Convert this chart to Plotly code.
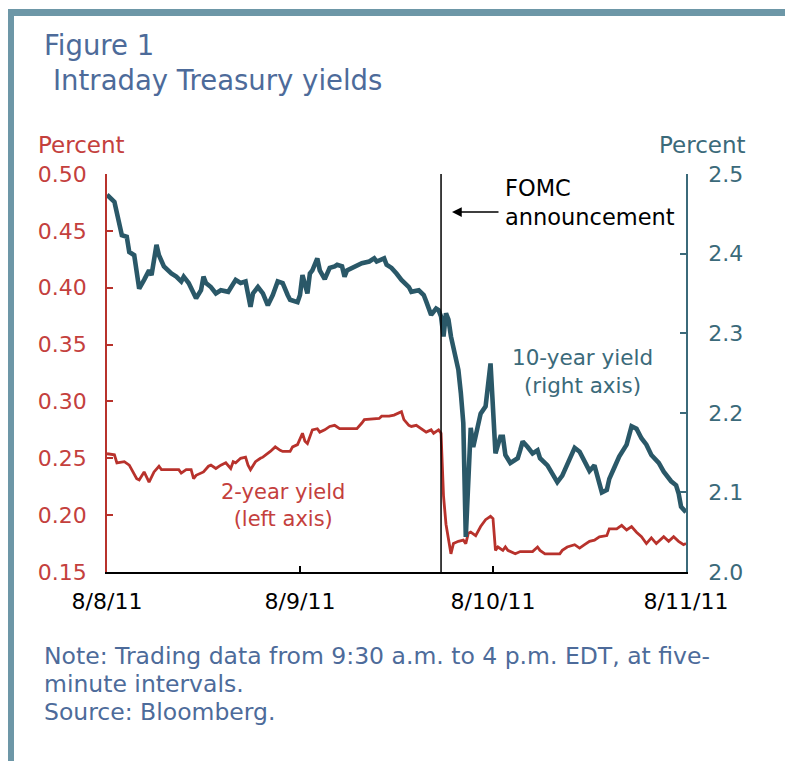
import plotly.graph_objects as go

# Session position in 5-minute bars (78 bars per trading day, 9:30-16:00 EDT)
day_labels = ["8/8/11", "8/9/11", "8/10/11", "8/11/11"]
day_bar_starts = [0, 78, 156, 234]
fomc_bar = 78 + 57  # 2:15 p.m. on 8/9/11

ten_x = [0, 3, 4, 5, 6, 8, 9, 11, 12, 13, 15, 17, 18, 20, 21, 23, 26, 28, 30, 31,
         33, 36, 38, 39, 40, 42, 44, 46, 49, 52, 54, 56, 58, 59, 61, 63, 65, 67, 69, 71,
         73, 74, 77, 78, 79, 81, 82, 83, 85, 86, 88, 90, 92, 93, 95, 96, 97, 100, 103, 106,
         108, 109, 112, 113, 115, 117, 119, 122, 123, 126, 128, 129, 131, 133, 134, 135, 136, 137, 138, 139,
         140, 142, 143, 144, 145, 146, 147, 148, 150, 151, 153, 154, 155, 157, 159, 160, 161, 163, 166, 167,
         168, 170, 172, 174, 175, 178, 180, 182, 184, 186, 189, 191, 193, 195, 197, 199, 200, 202, 203, 205,
         207, 210, 212, 214, 216, 218, 220, 223, 225, 228, 230, 231, 232, 234]
ten_y = [2.474, 2.465, 2.451, 2.434, 2.423, 2.421, 2.402, 2.398, 2.375, 2.356, 2.367, 2.379, 2.373, 2.411, 2.398, 2.384, 2.375, 2.371, 2.365, 2.371,
         2.363, 2.344, 2.354, 2.371, 2.363, 2.358, 2.350, 2.354, 2.352, 2.367, 2.363, 2.365, 2.333, 2.350, 2.358, 2.350, 2.335, 2.348, 2.365, 2.363,
         2.348, 2.342, 2.339, 2.348, 2.373, 2.350, 2.375, 2.379, 2.394, 2.379, 2.368, 2.382, 2.384, 2.386, 2.384, 2.371, 2.379, 2.384, 2.388, 2.390,
         2.394, 2.390, 2.394, 2.386, 2.382, 2.375, 2.367, 2.358, 2.352, 2.354, 2.348, 2.340, 2.323, 2.331, 2.329, 2.321, 2.296, 2.325, 2.317, 2.296,
         2.283, 2.254, 2.225, 2.187, 2.044, 2.116, 2.181, 2.157, 2.187, 2.199, 2.208, 2.241, 2.262, 2.149, 2.170, 2.170, 2.147, 2.137, 2.143, 2.153,
         2.164, 2.157, 2.149, 2.153, 2.143, 2.134, 2.122, 2.113, 2.121, 2.134, 2.156, 2.151, 2.138, 2.127, 2.134, 2.108, 2.100, 2.103, 2.117, 2.131,
         2.145, 2.160, 2.183, 2.180, 2.168, 2.160, 2.147, 2.137, 2.126, 2.114, 2.109, 2.099, 2.082, 2.075]

two_x = [0, 3, 4, 7, 9, 10, 12, 13, 15, 17, 19, 21, 22, 29, 30, 32, 34, 35, 36, 39,
         41, 42, 44, 46, 48, 50, 51, 52, 54, 56, 57, 58, 60, 62, 63, 66, 68, 70, 71, 74,
         75, 77, 79, 80, 81, 83, 85, 86, 88, 90, 92, 94, 101, 103, 104, 110, 111, 114, 116, 119,
         120, 122, 123, 125, 127, 129, 131, 132, 134, 135, 136, 137, 139, 140, 142, 144, 145, 146, 147, 149,
         151, 153, 155, 156, 157, 158, 160, 161, 162, 165, 167, 172, 174, 175, 177, 183, 184, 186, 189, 191,
         193, 195, 197, 199, 202, 203, 206, 208, 210, 212, 214, 216, 218, 220, 222, 225, 227, 229, 231, 233, 234]
two_y = [0.254, 0.253, 0.246, 0.247, 0.244, 0.240, 0.232, 0.231, 0.238, 0.229, 0.238, 0.243, 0.240, 0.240, 0.237, 0.240, 0.240, 0.232, 0.235, 0.238,
         0.243, 0.244, 0.241, 0.244, 0.246, 0.241, 0.247, 0.246, 0.250, 0.251, 0.244, 0.240, 0.247, 0.250, 0.251, 0.256, 0.260, 0.257, 0.256, 0.256,
         0.260, 0.262, 0.272, 0.265, 0.263, 0.275, 0.276, 0.273, 0.275, 0.278, 0.279, 0.276, 0.276, 0.281, 0.284, 0.285, 0.287, 0.287, 0.288, 0.291,
         0.284, 0.279, 0.278, 0.279, 0.276, 0.273, 0.275, 0.272, 0.275, 0.272, 0.217, 0.192, 0.166, 0.175, 0.177, 0.178, 0.175, 0.184, 0.185, 0.182,
         0.190, 0.196, 0.199, 0.197, 0.169, 0.172, 0.169, 0.172, 0.169, 0.166, 0.168, 0.168, 0.172, 0.169, 0.166, 0.166, 0.169, 0.172, 0.174, 0.171,
         0.174, 0.177, 0.178, 0.181, 0.182, 0.188, 0.188, 0.191, 0.187, 0.190, 0.185, 0.181, 0.175, 0.180, 0.175, 0.181, 0.177, 0.181, 0.177, 0.174, 0.175]

note_lines = ["Note: Trading data from 9:30 a.m. to 4 p.m. EDT, at five-",
              "minute intervals.",
              "Source: Bloomberg."]

RED = "#b8322c"
RED_TXT = "#c4403d"
TEAL = "#2a5868"
TEAL_TXT = "#3b6a7a"
BLUE_TXT = "#4d6b9a"
FRAME = "#6d97a7"
AXFONT = "DejaVu Sans"

fig = go.Figure()
fig.add_trace(go.Scatter(x=two_x, y=two_y, mode="lines", line=dict(color=RED, width=2.8),
                         yaxis="y", showlegend=False, hoverinfo="skip"))
fig.add_trace(go.Scatter(x=ten_x, y=ten_y, mode="lines", line=dict(color=TEAL, width=4.6),
                         yaxis="y2", showlegend=False, hoverinfo="skip"))

W, H = 785, 761
L, R, T, B = 107, 99, 174, 189
pw, ph = W - L - R, H - T - B


def px(x):
    return (x - L) / pw


def py(y):
    return (H - B - y) / ph


fig.update_layout(
    width=W, height=H,
    margin=dict(l=L, r=R, t=T, b=B, autoexpand=False),
    paper_bgcolor="white", plot_bgcolor="white",
    xaxis=dict(range=[0, 234], tickvals=day_bar_starts, ticktext=day_labels,
               showgrid=False, zeroline=False, showline=True, linecolor="#000000", linewidth=2,
               ticks="inside", ticklen=6, tickwidth=1.5, tickcolor="#000000",
               tickfont=dict(family=AXFONT, size=22, color="#000000"),
               ticklabelstandoff=9, automargin=False, fixedrange=True),
    yaxis=dict(range=[0.15, 0.50], tick0=0.15, dtick=0.05, tickformat=".2f",
               showgrid=False, zeroline=False, showline=True, linecolor=RED, linewidth=1.5,
               ticks="inside", ticklen=6, tickwidth=1.5, tickcolor=RED,
               tickfont=dict(family=AXFONT, size=22, color=RED_TXT),
               ticklabelstandoff=14, automargin=False, fixedrange=True),
    yaxis2=dict(range=[2.0, 2.5], tick0=2.0, dtick=0.1, tickformat=".1f",
                overlaying="y", side="right",
                showgrid=False, zeroline=False, showline=True, linecolor=TEAL_TXT, linewidth=1.5,
                ticks="inside", ticklen=6, tickwidth=1.5, tickcolor=TEAL_TXT,
                tickfont=dict(family=AXFONT, size=22, color=TEAL_TXT),
                ticklabelstandoff=16, automargin=False, fixedrange=True),
    shapes=[
        dict(type="rect", xref="paper", yref="paper", x0=px(10), x1=px(785), y0=py(16), y1=py(9),
             fillcolor=FRAME, line=dict(width=0), layer="above"),
        dict(type="rect", xref="paper", yref="paper", x0=px(8), x1=px(14), y0=py(761), y1=py(9),
             fillcolor=FRAME, line=dict(width=0), layer="above"),
        dict(type="line", xref="x", yref="paper", x0=fomc_bar, x1=fomc_bar, y0=0, y1=1,
             line=dict(color="#000000", width=1.5)),
    ],
)

ann = []
ann.append(dict(text="Figure 1", xref="paper", yref="paper", x=px(42), y=py(45),
                xanchor="left", yanchor="middle", showarrow=False,
                font=dict(family=AXFONT, size=27.5, color=BLUE_TXT)))
ann.append(dict(text="Intraday Treasury yields", xref="paper", yref="paper", x=px(51), y=py(80),
                xanchor="left", yanchor="middle", showarrow=False,
                font=dict(family=AXFONT, size=27.5, color=BLUE_TXT)))
ann.append(dict(text="Percent", xref="paper", yref="paper", x=px(81), y=py(145),
                xanchor="center", yanchor="middle", showarrow=False,
                font=dict(family=AXFONT, size=23, color=RED_TXT)))
ann.append(dict(text="Percent", xref="paper", yref="paper", x=px(702), y=py(145),
                xanchor="center", yanchor="middle", showarrow=False,
                font=dict(family=AXFONT, size=23, color=TEAL_TXT)))
ann.append(dict(text="FOMC<br>announcement", xref="paper", yref="paper", x=px(503), y=py(202),
                xanchor="left", yanchor="middle", align="left", showarrow=False,
                font=dict(family=AXFONT, size=22.5, color="#000000")))
ann.append(dict(text="", xref="paper", yref="paper", x=px(452), y=py(212),
                ax=48, ay=0, axref="pixel", ayref="pixel", showarrow=True,
                arrowhead=2, arrowsize=1.3, arrowwidth=1.5, arrowcolor="#000000"))
ann.append(dict(text="10-year yield<br>(right axis)", xref="paper", yref="paper", x=px(582), y=py(371),
                xanchor="center", yanchor="middle", align="center", showarrow=False,
                font=dict(family=AXFONT, size=21.5, color=TEAL_TXT)))
ann.append(dict(text="2-year yield<br>(left axis)", xref="paper", yref="paper", x=px(283), y=py(505),
                xanchor="center", yanchor="middle", align="center", showarrow=False,
                font=dict(family=AXFONT, size=21, color=RED_TXT)))
for line_text, line_y in zip(note_lines, [656, 684, 712]):
    ann.append(dict(text=line_text, xref="paper", yref="paper", x=px(42), y=py(line_y),
                    xanchor="left", yanchor="middle", align="left", showarrow=False,
                    font=dict(family=AXFONT, size=23.5, color=BLUE_TXT)))
fig.update_layout(annotations=ann)

fig.write_html("out.html", config={"displayModeBar": False},
               post_script="document.body.style.margin='0px';document.body.style.padding='0px';")
